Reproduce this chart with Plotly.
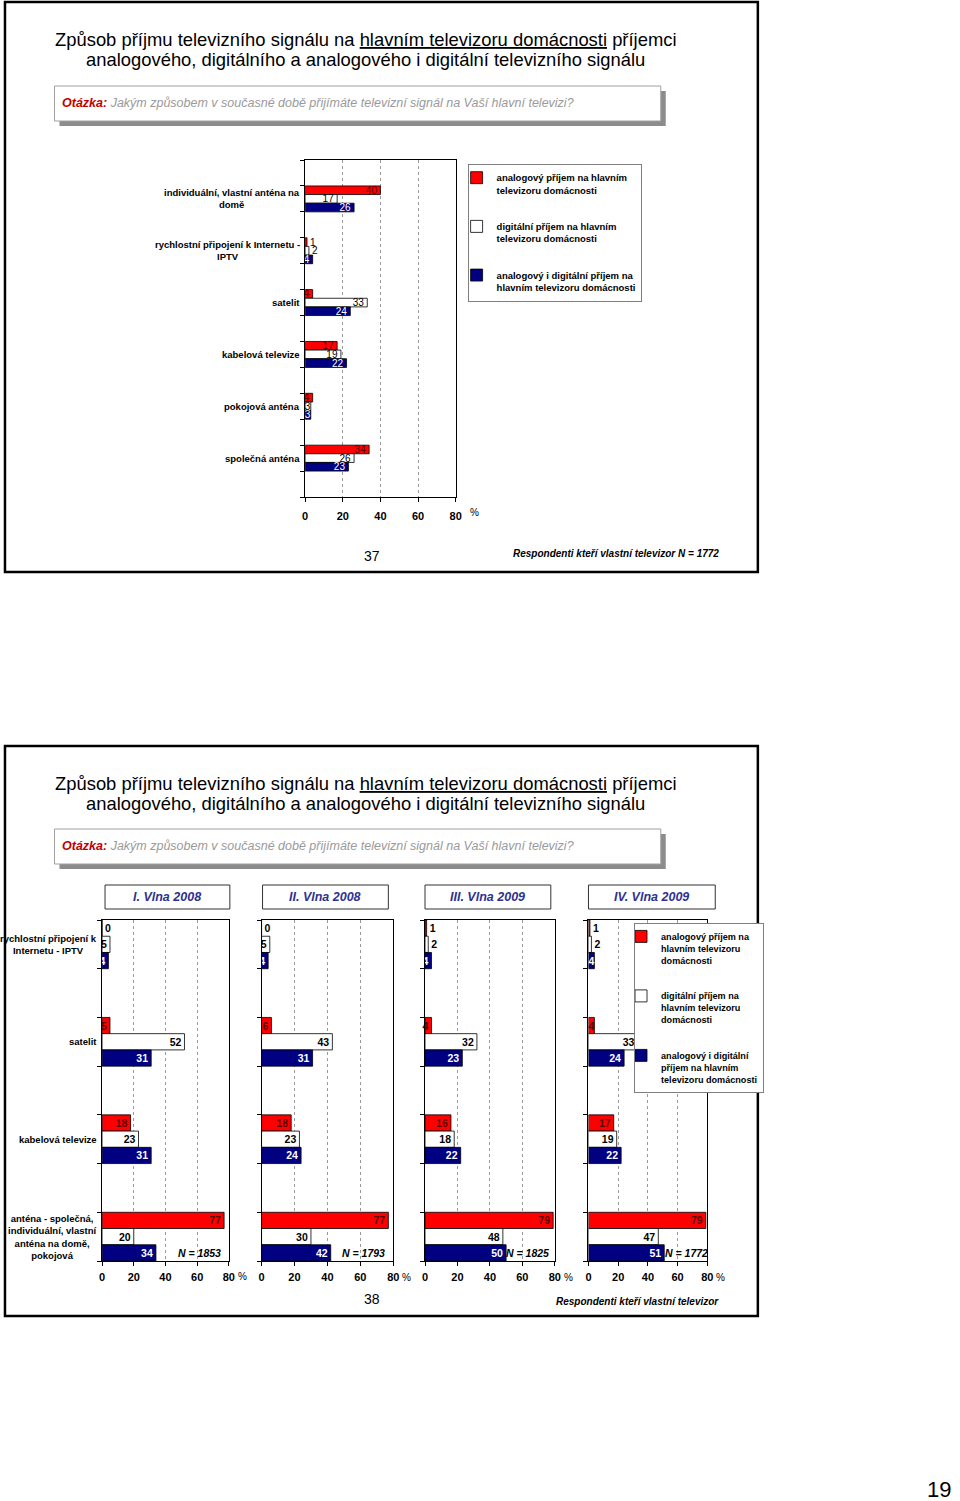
import plotly.graph_objects as go

W, H = 960, 1501
FONT = "Liberation Sans, Arial, sans-serif"


def px(x):
    return x / W


def py(y):
    return 1 - y / H


# ---------------- data ----------------
series_top_names = [
    "analogový příjem na hlavním<br>televizoru domácnosti",
    "digitální příjem na hlavním<br>televizoru domácnosti",
    "analogový i digitální příjem na<br>hlavním televizoru domácnosti",
]
series_bottom_names = [
    "analogový příjem na<br>hlavním televizoru<br>domácnosti",
    "digitální příjem na<br>hlavním televizoru<br>domácnosti",
    "analogový i digitální<br>příjem na hlavním<br>televizoru domácnosti",
]

top_categories = [
    "individuální, vlastní anténa na<br>domě",
    "rychlostní připojení k Internetu -<br>IPTV",
    "satelit",
    "kabelová televize",
    "pokojová anténa",
    "společná anténa",
]
top_analog = [40, 1, 4, 17, 4, 34]
top_digital = [17, 2, 33, 19, 3, 26]
top_both = [26, 4, 24, 22, 3, 23]
top_n = 1772

waves = ["I. Vlna 2008", "II. Vlna 2008", "III. Vlna 2009", "IV. Vlna 2009"]
wave_n = [1853, 1793, 1825, 1772]
bottom_categories = [
    "rychlostní připojení k<br>Internetu - IPTV",
    "satelit",
    "kabelová televize",
    "anténa - společná,<br>individuální, vlastní<br>anténa na domě,<br>pokojová",
]
wave_analog = [[0, 5, 18, 77], [0, 6, 18, 77], [1, 4, 16, 79], [1, 4, 17, 79]]
wave_digital = [[5, 52, 23, 20], [5, 43, 23, 30], [2, 32, 18, 48], [2, 33, 19, 47]]
wave_both = [[4, 31, 31, 34], [4, 31, 24, 42], [4, 23, 22, 50], [4, 24, 22, 51]]

x_ticks = [0, 20, 40, 60, 80]

# ---------------- styles ----------------
RED = "#FF0000"
NAVY = "#000080"
WHITE = "#FFFFFF"
fills = [RED, WHITE, NAVY]
label_colors = ["#5A0000", "black", "white"]
groups = ["analog", "digital", "both"]

fig = go.Figure()


def add_bars(vals_list, names, xa, ya, legend, showlegend, size, bold, gsuffix):
    for k, vals in enumerate(vals_list):
        fig.add_trace(go.Bar(
            x=vals, y=list(range(len(vals))), orientation="h",
            name=names[k],
            legendgroup=groups[k] + gsuffix,
            legend=legend, showlegend=showlegend,
            marker=dict(color=fills[k], line=dict(color="black", width=0.8)),
            text=[str(v) for v in vals],
            textposition=["outside" if v <= 2 else "inside" for v in vals],
            insidetextanchor="end", textangle=0, constraintext="none",
            insidetextfont=dict(family=FONT, size=size, color=label_colors[k],
                                weight="bold" if bold else "normal"),
            outsidetextfont=dict(family=FONT, size=size, color="black",
                                 weight="bold" if bold else "normal"),
            cliponaxis=False, hoverinfo="skip",
            xaxis=xa, yaxis=ya,
        ))


# top chart
add_bars([top_analog, top_digital, top_both], series_top_names, "x", "y",
         "legend", True, 10, False, "t")

# bottom panels
wave_x = [(100, 228), (261, 394), (426, 557), (591, 711)]
n_right = [222, 388, 553, 714]
for w in range(4):
    xa = "x%d" % (w + 2)
    ya = "y%d" % (w + 2)
    add_bars([wave_analog[w], wave_digital[w], wave_both[w]], series_bottom_names,
             xa, ya, "legend2", w == 0, 10.5, True, "b")


def xaxis_cfg(x0, x1, y_anchor, standoff):
    return dict(
        domain=[px(x0), px(x1)], anchor=y_anchor, range=[0, 80],
        tickvals=x_ticks, showgrid=True, gridcolor="#9a9a9a", griddash="dot",
        gridwidth=1, showline=True, linecolor="black", linewidth=1, mirror=True,
        ticks="outside", ticklen=4, tickcolor="black", zeroline=False,
        ticklabelstandoff=standoff,
        tickfont=dict(family=FONT, size=11, color="black", weight="bold"),
        fixedrange=True,
    )


def yaxis_cfg(y0, y1, x_anchor, n, pad):
    lo, hi = -pad, n - 1 + pad
    steps = int(round((hi - lo) / 0.5))
    return dict(
        domain=[py(y1), py(y0)], anchor=x_anchor, range=[hi, lo],
        showticklabels=False, showgrid=False, zeroline=False,
        showline=True, linecolor="black", linewidth=1, mirror=True,
        ticks="", tickvals=[],
        minor=dict(tickvals=[lo + 0.5 * k for k in range(steps + 1)],
                   ticks="outside", ticklen=4, tickcolor="black", showgrid=False),
        fixedrange=True,
    )


layout = dict(
    width=W, height=H, margin=dict(l=0, r=0, t=0, b=0),
    paper_bgcolor="white", plot_bgcolor="white",
    barmode="group", bargap=0.5, bargroupgap=0,
    font=dict(family=FONT, color="black"),
    xaxis=xaxis_cfg(305, 457, "y", 5),
    yaxis=yaxis_cfg(160, 497, "x", len(top_categories), 0.75),
)
for w in range(4):
    layout["xaxis%d" % (w + 2)] = xaxis_cfg(wave_x[w][0], wave_x[w][1], "y%d" % (w + 2), 2)
    layout["yaxis%d" % (w + 2)] = yaxis_cfg(920, 1261, "x%d" % (w + 2), len(bottom_categories), 0.25)

layout["legend"] = dict(
    x=px(469), y=py(164), xanchor="left", yanchor="top",
    bgcolor="white", bordercolor="#7f7f7f", borderwidth=1,
    font=dict(family=FONT, size=9.5, color="black", weight="bold"),
    traceorder="grouped", tracegroupgap=21, valign="top", itemwidth=30,
    indentation=-12,
)
layout["legend2"] = dict(
    x=px(637), y=py(923), xanchor="left", yanchor="top",
    bgcolor="white", bordercolor="#7f7f7f", borderwidth=1,
    font=dict(family=FONT, size=9.1, color="black", weight="bold"),
    traceorder="grouped", tracegroupgap=21, valign="top", itemwidth=30,
    indentation=-14,
)

shapes = []
# slide frames
for (y0, y1) in [(2, 572), (746, 1316)]:
    shapes.append(dict(type="rect", xref="paper", yref="paper",
                       x0=px(2), x1=px(762), y0=py(y1), y1=py(y0),
                       line=dict(color="black", width=2.5), fillcolor="rgba(0,0,0,0)",
                       layer="above"))
# question boxes with shadow
for qy in [86, 829]:
    shapes.append(dict(type="rect", xref="paper", yref="paper",
                       x0=px(57), x1=px(669), y0=py(qy + 40), y1=py(qy + 5),
                       line=dict(width=0), fillcolor="#8c8c8c", layer="below"))
    shapes.append(dict(type="rect", xref="paper", yref="paper",
                       x0=px(52), x1=px(664), y0=py(qy + 35), y1=py(qy),
                       line=dict(color="#a0a0a0", width=1), fillcolor="white", layer="below"))
# wave header boxes
wave_boxes = [(103, 229), (262, 389), (426, 553), (591, 719)]
for (bx0, bx1) in wave_boxes:
    shapes.append(dict(type="rect", xref="paper", yref="paper",
                       x0=px(bx0), x1=px(bx1), y0=py(909), y1=py(885),
                       line=dict(color="#333333", width=1), fillcolor="white", layer="below"))
layout["shapes"] = shapes

ann = []
title1 = "Způsob příjmu televizního signálu na <u>hlavním televizoru domácnosti</u> příjemci"
title2 = "analogového, digitálního a analogového i digitální televizního signálu"
question = ("<span style='color:#C00000'><b>Otázka:</b></span> "
            "Jakým způsobem v současné době přijímáte televizní signál na Vaší hlavní televizi?")
for base in [0, 743]:
    ann.append(dict(text=title1, x=px(366), y=py(base + 40), xref="paper", yref="paper",
                    xanchor="center", yanchor="middle", showarrow=False,
                    font=dict(family=FONT, size=18.4, color="black")))
    ann.append(dict(text=title2, x=px(366), y=py(base + 60), xref="paper", yref="paper",
                    xanchor="center", yanchor="middle", showarrow=False,
                    font=dict(family=FONT, size=18.4, color="black")))
    ann.append(dict(text=question, x=px(58), y=py(base + 103), xref="paper", yref="paper",
                    xanchor="left", yanchor="middle", showarrow=False,
                    font=dict(family=FONT, size=12.5, color="#9a9a9a", style="italic")))

# top category labels
for i, c in enumerate(top_categories):
    ann.append(dict(text=c, x=px(302), y=i, xref="paper", yref="y",
                    xanchor="right", yanchor="middle", align="center", showarrow=False,
                    font=dict(family=FONT, size=9.5, color="black", weight="bold")))
# bottom category labels
for i, c in enumerate(bottom_categories):
    ann.append(dict(text=c, x=px(97), y=i, xref="paper", yref="y2",
                    xanchor="right", yanchor="middle", align="center", showarrow=False,
                    font=dict(family=FONT, size=9.5, color="black", weight="bold")))

# wave headers
wave_centers = [(a + b) / 2 for a, b in wave_boxes]
for w in range(4):
    ann.append(dict(text=waves[w], x=px(wave_centers[w]), y=py(897), xref="paper", yref="paper",
                    xanchor="center", yanchor="middle", showarrow=False,
                    font=dict(family=FONT, size=12.5, color="#2E3192", weight="bold", style="italic")))
    ann.append(dict(text="N = %d" % wave_n[w], x=px(n_right[w]), y=3 + 1 / 6,
                    xref="paper", yref="y%d" % (w + 2),
                    xanchor="right", yanchor="middle", showarrow=False,
                    font=dict(family=FONT, size=10.5, color="black", weight="bold", style="italic")))

# percent signs
for (xx, yy) in [(476, 512), (242, 1276), (407, 1277), (571, 1277), (724, 1277)]:
    ann.append(dict(text="%", x=px(xx), y=py(yy), xref="paper", yref="paper",
                    xanchor="center", yanchor="middle", showarrow=False,
                    font=dict(family=FONT, size=10, color="black")))

# page numbers & footers
ann.append(dict(text="37", x=px(372), y=py(556), xref="paper", yref="paper",
                xanchor="center", yanchor="middle", showarrow=False,
                font=dict(family=FONT, size=14, color="black")))
ann.append(dict(text="Respondenti kteří vlastní televizor N = %d" % top_n, x=px(725), y=py(553),
                xref="paper", yref="paper", xanchor="right", yanchor="middle", showarrow=False,
                font=dict(family=FONT, size=10, color="black", weight="bold", style="italic")))
ann.append(dict(text="38", x=px(372), y=py(1299), xref="paper", yref="paper",
                xanchor="center", yanchor="middle", showarrow=False,
                font=dict(family=FONT, size=14, color="black")))
ann.append(dict(text="Respondenti kteří vlastní televizor", x=px(725), y=py(1301),
                xref="paper", yref="paper", xanchor="right", yanchor="middle", showarrow=False,
                font=dict(family=FONT, size=10, color="black", weight="bold", style="italic")))
ann.append(dict(text="19", x=px(945), y=py(1489), xref="paper", yref="paper",
                xanchor="center", yanchor="middle", showarrow=False,
                font=dict(family=FONT, size=22, color="black")))

layout["annotations"] = ann
fig.update_layout(**layout)
fig.write_html("out.html")
